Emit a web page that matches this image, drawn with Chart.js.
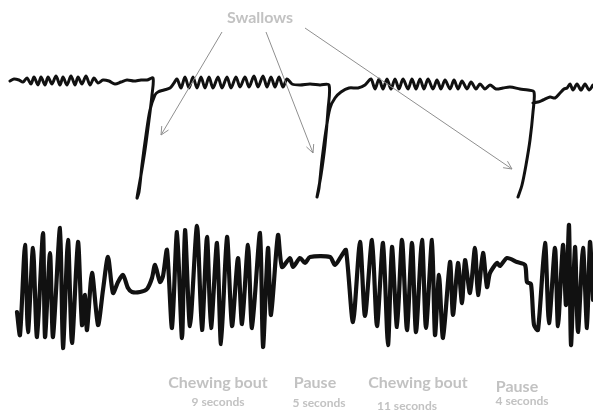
<!DOCTYPE html>
<html>
<head>
<meta charset="utf-8">
<script src="https://cdn.jsdelivr.net/npm/chart.js@4/dist/chart.umd.min.js"></script>
<style>
  html, body { margin: 0; padding: 0; background: #fff; }
  #wrap { width: 593px; height: 413px; }
</style>
</head>
<body>
<div id="wrap"><canvas id="trace" width="593" height="413"></canvas></div>
<script>
// upper trace (swallow recording), t = time units, v = trace position (down is larger)
const upperT = [10,14,19,23,27,31,34,38,41,45,48,52,56,60,63,67,71,75,78,82,86,90,94,98,103,109,115,121,127,134,141,147,153,
  152,149,145,141,137,139,142,146,150,155,158,164,170,174,
  177,181,185,189,193,197,201,205,209,213,218,222,227,231,236,240,245,249,254,258,263,267,271,275,279,283,287,292,300,310,320,329,
  328,325,321,317,319,322,326,330,335,341,349,358,365,
  371,375,379,383,387,391,395,399,403,408,412,416,420,424,428,433,437,441,445,450,454,458,462,467,471,476,480,485,490,496,503,510,520,528,534,
  533,530,526,522,518,533,
  533,538,543,550,555,560,564,567,570,573,577,581,585,589,593];
const upperV = [81,79,80,82,78,84,77,85,77,85,77,84,76,85,77,85,76,85,77,84,76,85,78,83,80,81,84,82,80,81,80,80,78,
  95,120,150,175,198,192,165,135,110,95,92,90,88,83,
  79,88,77,88,77,88,77,88,77,88,77,88,77,88,77,87,77,87,76,87,76,87,77,87,77,87,79,84,85,84,85,85,
  110,145,175,197,188,160,130,108,98,92,88,88,85,
  79,89,79,89,79,89,79,89,79,89,79,89,79,89,79,89,80,89,80,89,80,89,81,89,82,89,84,89,85,89,88,87,89,90,92,
  112,140,165,185,197,null,
  103,102,100,97,98,93,89,88,84,90,84,90,84,90,85];

// lower trace (jaw movement)
const lowerT = [17,20,25,28,33,37,43,45,50,53,60,63,68,72,78,82,85,87,92,98,103,108,113,118,123,128,132,140,147,152,155,160,163,
  167,172,177,182,185,190,197,202,207,211,217,221,227,232,238,242,248,252,260,263,268,271,278,
  282,290,293,300,305,310,330,335,342,346,
  353,360,365,372,377,383,388,392,397,402,407,412,416,422,426,432,435,439,443,450,453,458,462,465,470,475,478,483,487,
  490,497,500,507,517,525,527,531,
  534,538,545,549,555,558,563,566,569,571,575,578,583,587,590,593];
const lowerV = [312,335,245,332,248,337,233,337,253,337,228,348,240,343,242,325,295,330,273,325,290,257,293,282,275,288,292,292,289,278,265,282,276,
  250,328,232,338,230,326,226,330,237,328,243,344,237,326,258,324,245,328,233,347,248,315,235,
  267,258,267,258,263,257,257,265,255,250,
  322,242,316,240,326,243,345,247,327,240,330,243,332,240,328,240,335,275,338,262,315,263,303,260,293,248,295,253,287,
  273,263,266,258,262,265,282,284,
  325,330,243,323,248,326,245,305,225,345,247,332,248,328,242,300];

// annotations
const topLabel = 'Swallows';
const arrowFromT = [222, 266, 305];
const arrowFromV = [32, 32, 28];
const arrowToT = [161, 313, 512];
const arrowToV = [135, 153, 169];
const phaseNames = ['Chewing bout', 'Pause', 'Chewing bout', 'Pause'];
const phaseSeconds = ['9 seconds', '5 seconds', '11 seconds', '4 seconds'];
const phaseNameT = [218, 315, 418, 517];
const phaseNameV = [383, 383, 383, 387];
const phaseSecT = [218, 319, 407, 522];
const phaseSecV = [402, 403, 406, 401];

function toPoints(ts, vs) {
  return ts.map((t, i) => ({ x: t, y: vs[i] }));
}

const annotations = {
  id: 'annotations',
  afterDraw(chart) {
    const { ctx, scales } = chart;
    const px = t => scales.x.getPixelForValue(t);
    const py = v => scales.y.getPixelForValue(v);
    ctx.save();

    // arrows
    ctx.strokeStyle = '#8f8f8f';
    ctx.lineWidth = 1;
    for (let i = 0; i < arrowFromT.length; i++) {
      const x1 = px(arrowFromT[i]), y1 = py(arrowFromV[i]);
      const x2 = px(arrowToT[i]), y2 = py(arrowToV[i]);
      ctx.beginPath();
      ctx.moveTo(x1, y1);
      ctx.lineTo(x2, y2);
      const a = Math.atan2(y2 - y1, x2 - x1);
      const len = 9;
      ctx.moveTo(x2 - len * Math.cos(a - 0.45), y2 - len * Math.sin(a - 0.45));
      ctx.lineTo(x2, y2);
      ctx.lineTo(x2 - len * Math.cos(a + 0.45), y2 - len * Math.sin(a + 0.45));
      ctx.stroke();
    }

    ctx.fillStyle = '#c2c2c2';
    ctx.textAlign = 'center';
    ctx.textBaseline = 'middle';
    ctx.font = 'bold 16px Lato';
    ctx.fillText(topLabel, px(260), py(18));

    ctx.font = 'bold 16px Lato';
    phaseNames.forEach((name, i) => ctx.fillText(name, px(phaseNameT[i]), py(phaseNameV[i])));
    ctx.font = 'bold 12px Lato';
    phaseSeconds.forEach((s, i) => ctx.fillText(s, px(phaseSecT[i]), py(phaseSecV[i])));

    ctx.restore();
  }
};

new Chart(document.getElementById('trace'), {
  type: 'line',
  data: {
    datasets: [
      {
        label: 'Swallow trace',
        data: toPoints(upperT, upperV),
        borderColor: '#111',
        borderWidth: 3,
        tension: 0.3,
        spanGaps: false
      },
      {
        label: 'Jaw trace',
        data: toPoints(lowerT, lowerV),
        borderColor: '#111',
        borderWidth: 4.2,
        tension: 0.25
      }
    ]
  },
  options: {
    responsive: false,
    animation: false,
    layout: { padding: 0 },
    elements: {
      point: { radius: 0, hoverRadius: 0 },
      line: { borderJoinStyle: 'round', borderCapStyle: 'round' }
    },
    plugins: { legend: { display: false }, tooltip: { enabled: false } },
    scales: {
      x: { type: 'linear', min: 0, max: 593, display: false },
      y: { type: 'linear', min: 0, max: 413, reverse: true, display: false }
    }
  },
  plugins: [annotations]
});
</script>
</body>
</html>
